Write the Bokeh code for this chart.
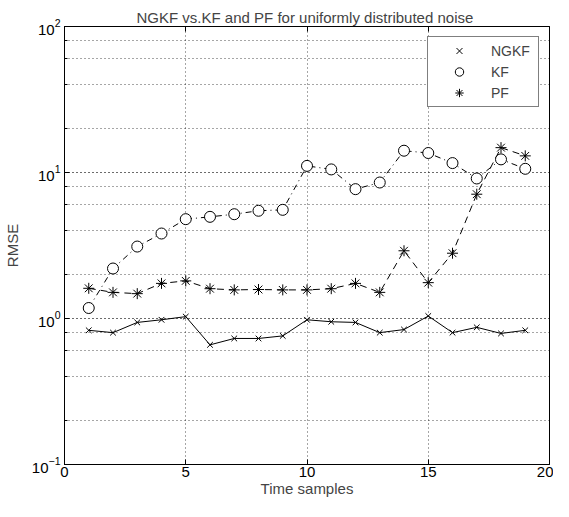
from bokeh.plotting import figure
from bokeh.models import (LinearAxis, Legend, LegendItem, FixedTicker,
                          LogTicker, CustomJSTickFormatter)
from bokeh.embed import file_html
from bokeh.resources import INLINE

# ---- data ----
time_samples = list(range(1, 20))
ngkf = [0.83, 0.80, 0.94, 0.98, 1.03, 0.66, 0.73, 0.73, 0.76, 0.98,
        0.95, 0.94, 0.80, 0.84, 1.04, 0.80, 0.87, 0.79, 0.83]
kf = [1.18, 2.20, 3.11, 3.82, 4.79, 4.97, 5.18, 5.47, 5.55, 11.1,
      10.5, 7.69, 8.54, 14.1, 13.6, 11.6, 9.1, 12.3, 10.6]
pf = [1.61, 1.51, 1.48, 1.74, 1.81, 1.60, 1.57, 1.58, 1.57, 1.57,
      1.60, 1.74, 1.51, 2.91, 1.76, 2.80, 7.1, 14.8, 13.0]
series_names = ["NGKF", "KF", "PF"]
x_ticks = [0, 5, 10, 15, 20]
title_text = "NGKF vs.KF and PF for  uniformly distributed noise"

FONT = "Liberation Sans"

p = figure(width=553, height=501, y_axis_type="log",
           x_range=(0, 20), y_range=(0.1, 100),
           output_backend="svg", toolbar_location=None,
           min_border_left=62, min_border_right=4, min_border_top=26,
           min_border_bottom=37, title=title_text)
p.background_fill_color = "white"
p.outline_line_color = "black"
p.outline_line_width = 1

p.title.text_font = FONT
p.title.text_font_size = "15px"
p.title.text_font_style = "normal"
p.title.align = "center"
p.title.standoff = 2

def style_axis(ax):
    ax.axis_line_color = "black"
    ax.axis_line_width = 1
    ax.major_tick_in = 5
    ax.major_tick_out = 0
    ax.minor_tick_in = 3
    ax.minor_tick_out = 0
    ax.major_tick_line_color = "black"
    ax.minor_tick_line_color = "black"
    ax.major_label_text_font = FONT
    ax.major_label_text_font_size = "15px"
    ax.major_label_text_color = "black"
    ax.axis_label_text_font = FONT
    ax.axis_label_text_font_size = "15px"
    ax.axis_label_text_font_style = "normal"

xa = p.xaxis[0]
style_axis(xa)
xa.ticker = FixedTicker(ticks=x_ticks)
xa.minor_tick_line_color = None
xa.axis_label = "Time samples"
xa.major_label_standoff = 2
xa.axis_label_standoff = 0

ya = p.yaxis[0]
style_axis(ya)
ya.ticker = LogTicker()
ya.axis_label = "RMSE"
ya.major_label_standoff = 4
ya.axis_label_standoff = 8

top = LinearAxis(ticker=FixedTicker(ticks=x_ticks))
style_axis(top)
top.minor_tick_line_color = None
top.formatter = CustomJSTickFormatter(code="return ' ';")
top.major_label_text_font_size = "1px"
top.major_label_text_color = None
top.major_label_standoff = 0
p.add_layout(top, "above")

p.xgrid.ticker = FixedTicker(ticks=x_ticks)
for g in (p.xgrid[0], p.ygrid[0]):
    g.grid_line_color = "black"
    g.grid_line_alpha = 0.7
    g.grid_line_dash = "1 3"
    g.grid_line_width = 1
p.ygrid[0].minor_grid_line_color = "black"
p.ygrid[0].minor_grid_line_alpha = 0.7
p.ygrid[0].minor_grid_line_dash = "1 3"

# lines
p.line(time_samples, ngkf, line_color="black", line_width=1)
p.line(time_samples, kf, line_color="black", line_width=1, line_dash="6 4 1 4")
p.line(time_samples, pf, line_color="black", line_width=1, line_dash="7 5")

# markers
r1 = p.scatter(time_samples, ngkf, marker="x", size=8, line_color="black",
               fill_color=None, line_width=1)
r2 = p.scatter(time_samples, kf, marker="circle", size=11, line_color="black",
               fill_color="white", line_width=1)
r3 = p.scatter(time_samples, pf, marker="asterisk", size=11, line_color="black",
               line_width=1)

legend = Legend(items=[LegendItem(label=series_names[0], renderers=[r1]),
                       LegendItem(label=series_names[1], renderers=[r2]),
                       LegendItem(label=series_names[2], renderers=[r3])],
                location="top_right")
legend.border_line_color = "black"
legend.border_line_width = 1.5
legend.background_fill_color = "white"
legend.background_fill_alpha = 1
legend.label_text_font = FONT
legend.label_text_font_size = "14px"
legend.padding = 3
legend.margin = 10
legend.glyph_width = 56
legend.glyph_height = 21
legend.label_height = 21
legend.label_width = 44
legend.label_standoff = 4
legend.spacing = 0
p.add_layout(legend, "center")

open("out.html", "w").write(file_html(p, INLINE))
